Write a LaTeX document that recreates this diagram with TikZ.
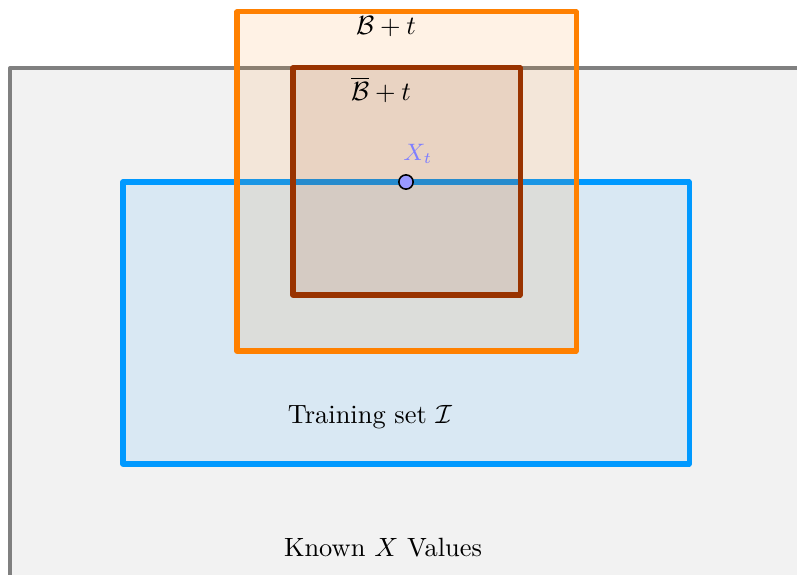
\documentclass[tikz,border=0pt]{standalone}
\usepackage{amsmath,amssymb}
\usepackage{tikz}
\definecolor{knownGray}{HTML}{808080}
\definecolor{knownFill}{HTML}{F2F2F2}
\definecolor{trainBlue}{HTML}{0099FF}
\definecolor{boxOrange}{HTML}{FF8000}
\definecolor{boxBrown}{HTML}{993300}
\definecolor{pointBlue}{HTML}{9999FF}
\definecolor{labelBlue}{HTML}{7F7FFF}

\begin{document}
\begin{tikzpicture}[x=0.0133cm,y=-0.0133cm,
    region/.style={line width=1.9pt,line join=round}]
  \useasboundingbox (0,0) rectangle (797,575);
  \clip (0,0) rectangle (797,575);
  % known values
  \draw[region,draw=knownGray,fill=knownFill,line width=1.5pt] (10,68) rectangle (830,610);
  % training set
  \draw[region,draw=trainBlue,fill=trainBlue,fill opacity=0.1] (123,182) rectangle (689,464);
  % boxes around x_t
  \draw[region,draw=boxOrange,fill=boxOrange,fill opacity=0.1] (237,12) rectangle (576,351);
  \draw[region,draw=boxBrown,fill=boxBrown,fill opacity=0.1] (293,68) rectangle (520,295);
  \node[circle,draw=black,fill=pointBlue,inner sep=0pt,minimum size=5.4pt,line width=0.6pt] (xt) at (406,182) {};
  \node[text=labelBlue,font=\small] (xtlabel) at (418,154) {$X_t$};
  \node (bt) at (386,27) {$\mathcal{B}+t$};
  \node (bbart) at (381,90) {$\overline{\mathcal{B}}+t$};
  \node (train) at (370,417) {Training set $\mathcal{I}$};
  \node (known) at (383,548) {Known $X$ Values};
\end{tikzpicture}
\end{document}
